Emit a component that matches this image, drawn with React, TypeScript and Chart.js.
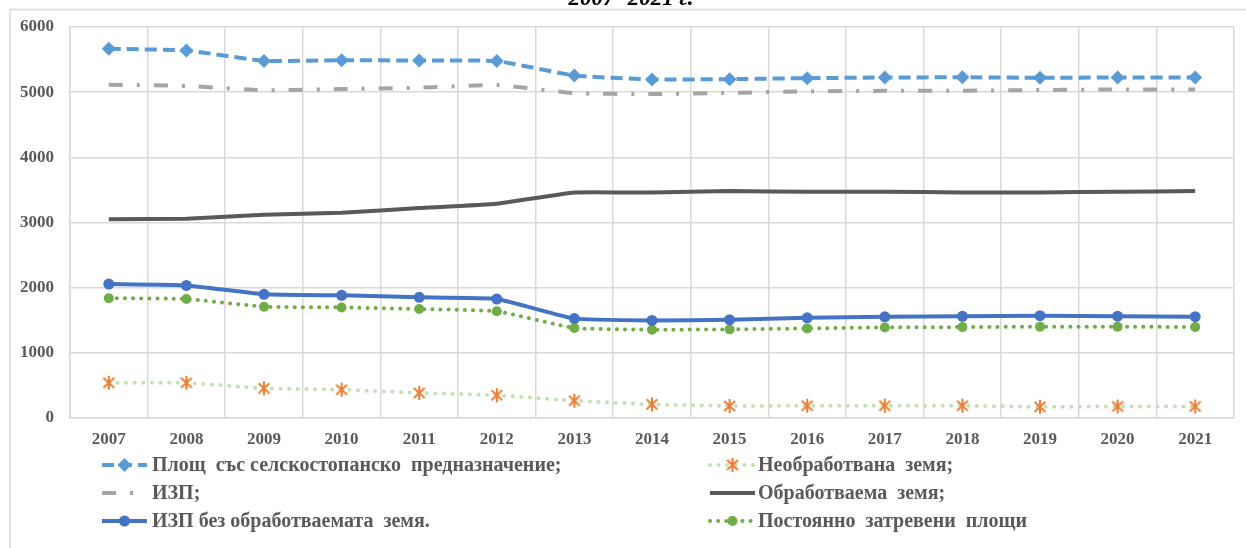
import React, { useEffect, useRef } from 'react';
import { Chart, registerables } from 'chart.js';

Chart.register(...registerables);

const years = ['2007', '2008', '2009', '2010', '2011', '2012', '2013', '2014', '2015', '2016', '2017', '2018', '2019', '2020', '2021'];

const agriArea = [5665, 5640, 5480, 5490, 5485, 5478, 5255, 5195, 5200, 5215, 5225, 5228, 5220, 5225, 5225];
const uncultivated = [540, 540, 455, 435, 385, 350, 265, 210, 185, 188, 188, 188, 172, 177, 177];
const uaa = [5115, 5095, 5030, 5048, 5068, 5110, 4985, 4970, 4990, 5012, 5020, 5022, 5032, 5042, 5042];
const arable = [3048, 3058, 3118, 3150, 3222, 3287, 3462, 3460, 3482, 3472, 3472, 3462, 3462, 3472, 3482];
const uaaNoArable = [2055, 2035, 1898, 1882, 1852, 1826, 1525, 1498, 1508, 1538, 1553, 1560, 1570, 1563, 1555];
const grassland = [1838, 1826, 1708, 1697, 1672, 1638, 1380, 1355, 1360, 1375, 1390, 1395, 1402, 1400, 1397];

const seriesLabels = [
  'Площ  със селскостопанско  предназначение;',
  'Необработвана  земя;',
  'ИЗП;',
  'Обработваема  земя;',
  'ИЗП без обработваемата  земя.',
  'Постоянно  затревени  площи',
];

const titleText = '2007- 2021 г.';

const yMin = 0;
const yMax = 6000;
const yStep = 1000;

const FONT = '"Liberation Serif", "Times New Roman", serif';
const TEXT = '#595959';
const GRID = '#d9d9d9';

function makeAsterisk(): HTMLCanvasElement {
  const c = document.createElement('canvas');
  c.width = 16;
  c.height = 16;
  const g = c.getContext('2d')!;
  g.strokeStyle = '#ED7D31';
  g.lineWidth = 2;
  g.lineCap = 'butt';
  g.beginPath();
  g.moveTo(8, 1);
  g.lineTo(8, 15);
  g.moveTo(2.5, 3);
  g.lineTo(13.5, 13);
  g.moveTo(13.5, 3);
  g.lineTo(2.5, 13);
  g.stroke();
  return c;
}

function drawMarker(ctx: CanvasRenderingContext2D, ds: any, x: number, y: number) {
  const style = ds.pointStyle;
  const r = ds.pointRadius;
  if (!r && !(style instanceof HTMLCanvasElement)) return;
  ctx.save();
  if (style instanceof HTMLCanvasElement) {
    ctx.drawImage(style, x - style.width / 2, y - style.height / 2);
  } else if (style === 'rectRot') {
    ctx.fillStyle = ds.pointBackgroundColor;
    ctx.beginPath();
    ctx.moveTo(x, y - r);
    ctx.lineTo(x + r, y);
    ctx.lineTo(x, y + r);
    ctx.lineTo(x - r, y);
    ctx.closePath();
    ctx.fill();
  } else if (style === 'circle') {
    ctx.fillStyle = ds.pointBackgroundColor;
    ctx.beginPath();
    ctx.arc(x, y, r, 0, Math.PI * 2);
    ctx.fill();
  }
  ctx.restore();
}

const framePlugin = {
  id: 'frameLines',
  afterDraw(chart: any) {
    const ctx = chart.ctx as CanvasRenderingContext2D;
    ctx.save();
    ctx.strokeStyle = GRID;
    ctx.lineWidth = 1.5;
    ctx.beginPath();
    ctx.moveTo(10, 560);
    ctx.lineTo(10, 9.5);
    ctx.lineTo(1260, 9.5);
    ctx.stroke();
    ctx.fillStyle = '#000';
    ctx.font = 'italic bold 23px ' + FONT;
    ctx.textAlign = 'center';
    ctx.textBaseline = 'alphabetic';
    ctx.fillText(titleText, 631, 5);
    ctx.restore();
  },
};

const legendPlugin = {
  id: 'customLegend',
  afterDraw(chart: any) {
    const ctx = chart.ctx as CanvasRenderingContext2D;
    const colSample = [102, 710];
    const colText = [152, 758];
    const rows = [465, 493, 521];
    const sampleW = 45;
    chart.data.datasets.forEach((ds: any, i: number) => {
      const col = i % 2;
      const row = Math.floor(i / 2);
      const x0 = colSample[col];
      const y = rows[row];
      ctx.save();
      ctx.beginPath();
      ctx.rect(x0 - 3, y - 10, sampleW + 4, 20);
      ctx.clip();
      ctx.strokeStyle = ds.borderColor;
      ctx.lineWidth = ds.borderWidth;
      ctx.lineCap = ds.borderCapStyle || 'butt';
      ctx.setLineDash(ds.borderDash || []);
      ctx.beginPath();
      ctx.moveTo(x0, y);
      ctx.lineTo(x0 + sampleW, y);
      ctx.stroke();
      ctx.restore();
      drawMarker(ctx, ds, x0 + sampleW / 2, y);
      ctx.save();
      ctx.fillStyle = TEXT;
      ctx.font = 'bold 20px ' + FONT;
      ctx.textAlign = 'left';
      ctx.textBaseline = 'middle';
      ctx.fillText(ds.label, colText[col], y + 1);
      ctx.restore();
    });
  },
};

export default function App() {
  const ref = useRef<HTMLCanvasElement | null>(null);

  useEffect(() => {
    if (!ref.current) return;
    const asterisk = makeAsterisk();
    const tension = 0.12;
    const chart = new Chart(ref.current, {
      type: 'line',
      data: {
        labels: years,
        datasets: [
          {
            label: seriesLabels[0],
            data: agriArea,
            borderColor: '#5B9BD5',
            backgroundColor: '#5B9BD5',
            borderWidth: 4,
            borderDash: [12, 6],
            pointStyle: 'rectRot',
            pointRadius: 7,
            pointBackgroundColor: '#5B9BD5',
            pointBorderColor: '#5B9BD5',
            pointBorderWidth: 0,
            tension,
          },
          {
            label: seriesLabels[1],
            data: uncultivated,
            borderColor: '#C5E0B4',
            backgroundColor: '#C5E0B4',
            borderWidth: 4,
            borderDash: [0.1, 8.5],
            borderCapStyle: 'round',
            pointStyle: asterisk,
            pointRadius: 8,
            tension,
          },
          {
            label: seriesLabels[2],
            data: uaa,
            borderColor: '#A5A5A5',
            backgroundColor: '#A5A5A5',
            borderWidth: 4,
            borderDash: [14, 14, 3, 14],
            pointRadius: 0,
            tension,
          },
          {
            label: seriesLabels[3],
            data: arable,
            borderColor: '#595959',
            backgroundColor: '#595959',
            borderWidth: 4,
            pointRadius: 0,
            tension,
          },
          {
            label: seriesLabels[4],
            data: uaaNoArable,
            borderColor: '#4472C4',
            backgroundColor: '#4472C4',
            borderWidth: 4,
            pointStyle: 'circle',
            pointRadius: 5.5,
            pointBackgroundColor: '#4472C4',
            pointBorderColor: '#4472C4',
            pointBorderWidth: 0,
            tension,
          },
          {
            label: seriesLabels[5],
            data: grassland,
            borderColor: '#70AD47',
            backgroundColor: '#70AD47',
            borderWidth: 4,
            borderDash: [0.1, 8],
            borderCapStyle: 'round',
            pointStyle: 'circle',
            pointRadius: 5,
            pointBackgroundColor: '#70AD47',
            pointBorderColor: '#70AD47',
            pointBorderWidth: 0,
            tension,
          },
        ] as any,
      },
      options: {
        responsive: false,
        maintainAspectRatio: false,
        animation: false,
        layout: { padding: { left: 0, right: 9, top: 27, bottom: 0 } },
        plugins: {
          legend: { display: false },
          title: { display: false },
          tooltip: { enabled: false },
        },
        scales: {
          x: {
            offset: true,
            grid: { offset: true, color: GRID, lineWidth: 1.5, drawTicks: false },
            border: { display: true, color: GRID, width: 1.5 },
            ticks: {
              color: TEXT,
              font: { family: FONT, size: 17, weight: 'bold' },
              padding: 11,
              maxRotation: 0,
              autoSkip: false,
            },
            afterFit(scale: any) {
              scale.height = 130;
            },
          },
          y: {
            min: yMin,
            max: yMax,
            grid: { color: GRID, lineWidth: 1.5, drawTicks: false },
            border: { display: true, color: GRID, width: 1.5 },
            ticks: {
              stepSize: yStep,
              color: TEXT,
              font: { family: FONT, size: 17, weight: 'bold' },
              padding: 16,
              callback: (v: any) => String(v),
            },
            afterFit(scale: any) {
              scale.width = 70;
            },
          },
        },
      } as any,
      plugins: [framePlugin, legendPlugin],
    });
    return () => chart.destroy();
  }, []);

  return (
    <div
      style={{
        position: 'absolute',
        left: 0,
        top: 0,
        width: 1246,
        height: 548,
        overflow: 'hidden',
        background: '#fff',
      }}
    >
      <canvas ref={ref} width={1246} height={548} style={{ display: 'block' }} />
    </div>
  );
}
